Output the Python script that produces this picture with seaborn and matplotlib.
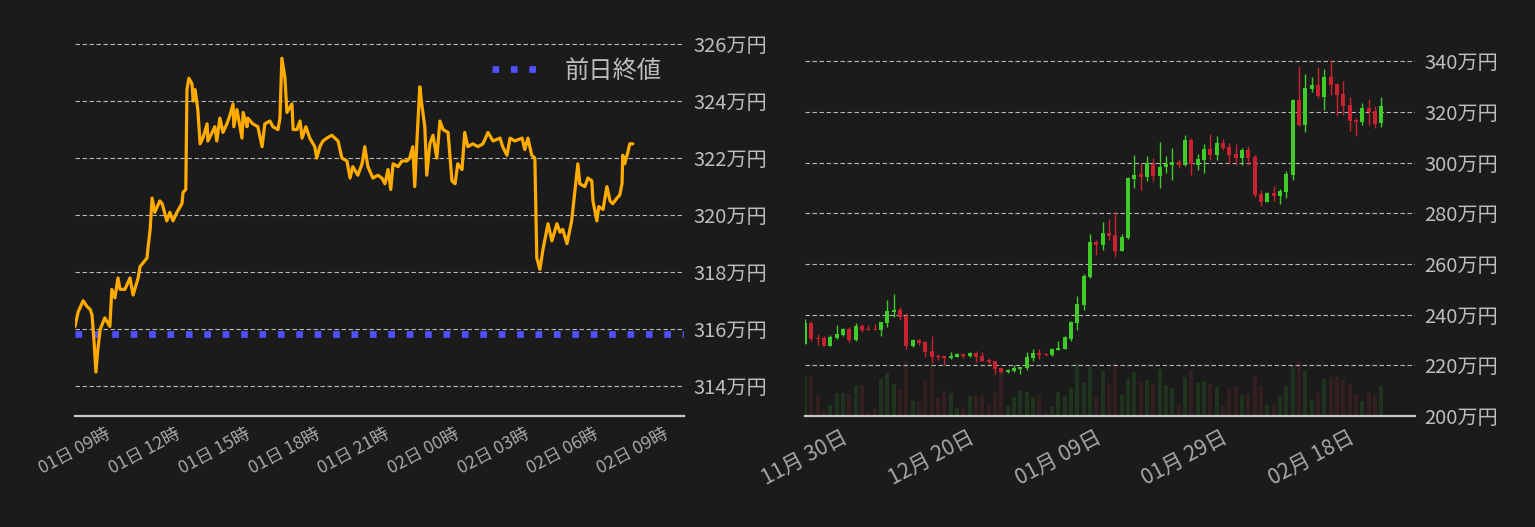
import matplotlib

matplotlib.use("Agg")
import matplotlib.pyplot as plt
import matplotlib.dates as mdates
import numpy as np
import pandas as pd
import seaborn as sns

# ---- intraday (left) ----
intraday_start = "2024-03-01 09:00"
minutes = [
    0, 8, 21, 31, 39, 44, 49, 54, 59, 65, 77, 90, 95, 103, 111, 116, 129, 142, 150, 163,
    168, 186, 188, 194, 199, 206, 219, 225, 237, 245, 253, 263, 276, 279, 286, 289, 294, 302, 305, 310,
    315, 317, 323, 330, 341, 343, 354, 361, 366, 374, 382, 392, 400, 408, 410, 418, 431, 434, 444, 446,
    459, 472, 483, 490, 503, 511, 524, 529, 534, 542, 547, 560, 563, 573, 581, 586, 596, 606, 619, 624,
    632, 640, 650, 663, 679, 689, 702, 710, 717, 730, 741, 748, 756, 769, 782, 792, 800, 808, 815, 821,
    834, 844, 857, 864, 872, 877, 883, 890, 895, 903, 908, 916, 924, 934, 942, 950, 963, 973, 981, 988,
    999, 1006, 1014, 1027, 1040, 1053, 1066, 1079, 1097, 1104, 1115, 1123, 1135, 1154, 1161, 1169, 1179, 1187, 1192, 1200,
    1208, 1221, 1231, 1244, 1252, 1259, 1270, 1282, 1290, 1298, 1303, 1316, 1324, 1334, 1337, 1347, 1352, 1363, 1373, 1381,
    1388, 1399, 1406, 1412, 1414, 1419, 1427, 1432, 1440,
]
price = [
    316.1, 316.6, 317.0, 316.8, 316.7, 316.5, 315.6, 314.5, 315.3, 316.0, 316.4, 316.1, 317.4, 317.1, 317.8, 317.4, 317.4, 317.8, 317.2, 317.8,
    318.2, 318.5, 318.8, 319.5, 320.6, 320.1, 320.5, 320.4, 319.8, 320.1, 319.8, 320.1, 320.4, 320.8, 320.9, 324.4, 324.8, 324.6, 324.0, 324.4,
    323.9, 323.7, 322.5, 322.7, 323.2, 322.6, 322.9, 323.1, 322.6, 323.4, 322.9, 323.2, 323.5, 323.9, 323.1, 323.7, 322.7, 323.6, 323.1, 323.4,
    323.2, 323.1, 322.4, 323.2, 323.3, 323.1, 323.0, 323.4, 325.5, 324.8, 323.6, 323.9, 323.0, 323.0, 323.3, 322.7, 323.1, 322.7, 322.4, 322.0,
    322.4, 322.6, 322.7, 322.8, 322.6, 322.0, 321.9, 321.3, 321.7, 321.4, 321.8, 322.4, 321.7, 321.3, 321.4, 321.3, 321.1, 321.6, 320.9, 321.8,
    321.7, 321.9, 321.9, 322.0, 322.4, 321.0, 322.7, 324.5, 323.9, 323.1, 321.4, 322.5, 322.8, 322.0, 323.3, 323.0, 322.9, 321.2, 321.1, 321.8,
    321.6, 322.9, 322.4, 322.5, 322.4, 322.5, 322.9, 322.6, 322.7, 322.4, 322.1, 322.7, 322.6, 322.7, 322.3, 322.7, 322.1, 322.0, 318.5, 318.1,
    318.8, 319.7, 319.1, 319.7, 319.4, 319.5, 319.0, 319.8, 320.8, 321.8, 321.1, 321.0, 321.3, 321.2, 320.5, 319.8, 320.3, 320.2, 321.0, 320.5,
    320.4, 320.6, 320.7, 321.1, 322.1, 321.8, 322.2, 322.5, 322.5,
]
prev_close = 315.82
left_yticks = [314, 316, 318, 320, 322, 324, 326]

# ---- daily candles (right) ----
daily_start = "2023-11-30"
opens = [
    228.3, 236.6, 230.8, 230.7, 227.7, 230.7, 231.9, 234.2, 229.9, 235.4, 234.4, 234.4, 234.0, 236.7, 240.9, 241.7,
    239.3, 227.5, 229.9, 229.1, 225.6, 223.7, 223.6, 222.8, 223.2, 224.4, 223.6, 224.8, 223.6, 222.0, 221.6, 218.9,
    217.3, 217.7, 218.5, 218.9, 222.8, 224.8, 224.4, 224.0, 226.0, 226.4, 230.3, 236.6, 243.7, 254.7, 268.5, 267.3,
    272.4, 271.6, 265.3, 270.4, 293.7, 295.6, 294.5, 299.6, 294.9, 298.4, 299.2, 300.4, 299.2, 309.0, 299.2, 301.2,
    305.5, 303.1, 307.8, 306.3, 303.5, 302.0, 305.1, 302.3, 287.8, 284.6, 288.2, 287.0, 288.6, 295.2, 324.8, 314.9,
    329.1, 330.7, 326.0, 333.8, 331.1, 327.1, 322.8, 316.9, 316.1, 321.6, 320.4, 315.7,
]
highs = [
    238.4, 237.4, 232.3, 231.5, 231.9, 235.8, 234.6, 235.0, 236.6, 236.2, 235.8, 236.2, 237.0, 245.6, 248.0, 242.9,
    240.5, 230.3, 230.3, 229.5, 231.5, 224.3, 223.6, 225.2, 224.8, 224.4, 225.2, 225.6, 225.2, 222.8, 221.6, 218.9,
    218.5, 220.1, 219.3, 225.2, 226.4, 226.4, 225.0, 226.7, 229.5, 231.5, 237.4, 247.2, 255.9, 272.0, 269.3, 276.4,
    277.9, 280.7, 272.0, 294.5, 303.1, 300.0, 302.7, 302.0, 308.2, 302.7, 305.9, 301.6, 311.0, 309.8, 303.5, 307.5,
    311.4, 310.6, 309.4, 307.8, 307.5, 305.9, 306.7, 303.1, 289.3, 288.6, 290.9, 289.7, 296.8, 325.2, 338.2, 335.0,
    333.8, 337.8, 337.0, 340.5, 331.1, 332.3, 326.0, 317.7, 323.6, 325.2, 322.4, 326.0,
]
lows = [
    228.3, 229.6, 227.9, 227.7, 227.7, 230.3, 231.5, 229.2, 229.5, 233.2, 234.0, 234.0, 231.6, 235.1, 239.1, 237.9,
    226.4, 227.1, 227.9, 223.2, 220.8, 222.1, 220.1, 222.4, 223.2, 222.8, 223.2, 221.3, 221.6, 220.5, 216.5, 216.9,
    216.9, 217.3, 216.5, 218.1, 221.6, 222.4, 223.6, 223.6, 226.0, 226.4, 229.5, 233.8, 241.7, 254.3, 263.4, 265.7,
    269.3, 262.6, 265.3, 270.0, 290.1, 289.3, 292.9, 292.9, 290.1, 296.0, 293.3, 298.0, 298.8, 295.2, 297.2, 296.0,
    301.2, 301.2, 305.1, 300.0, 299.2, 299.2, 299.2, 286.6, 282.7, 284.6, 285.0, 283.8, 286.2, 293.3, 314.5, 312.2,
    327.9, 325.6, 320.8, 326.8, 318.5, 318.9, 312.6, 310.6, 314.9, 314.9, 313.8, 314.1,
]
closes = [
    236.6, 230.3, 230.3, 227.7, 231.1, 232.3, 234.2, 230.0, 235.4, 234.0, 234.0, 234.0, 237.0, 241.3, 241.7, 239.1,
    227.5, 229.9, 228.7, 225.2, 223.2, 223.3, 222.8, 223.6, 224.4, 223.6, 224.8, 223.2, 221.6, 221.3, 218.5, 217.3,
    218.1, 218.9, 219.3, 223.2, 224.8, 224.0, 224.1, 226.4, 226.7, 231.1, 237.0, 244.1, 255.1, 268.5, 267.3, 272.4,
    271.2, 265.3, 270.8, 294.1, 295.2, 294.5, 300.0, 294.9, 298.4, 299.6, 300.4, 299.2, 309.0, 299.6, 301.5, 305.5,
    303.1, 307.8, 305.9, 303.1, 302.0, 305.1, 302.0, 287.4, 284.6, 288.2, 287.0, 289.0, 295.6, 324.8, 314.9, 329.5,
    330.7, 326.4, 333.8, 330.7, 326.8, 322.4, 316.5, 316.1, 321.6, 320.1, 315.3, 322.4,
]
volume = [
    116, 119, 62, 17, 32, 68, 68, 65, 89, 92, 11, 20, 110, 128, 95, 77,
    164, 44, 41, 107, 152, 53, 74, 68, 23, 26, 59, 59, 62, 32, 68, 137,
    29, 56, 74, 71, 56, 62, 11, 26, 71, 59, 83, 158, 98, 149, 56, 134,
    98, 158, 62, 110, 131, 101, 107, 95, 140, 92, 83, 32, 116, 137,
    98, 104, 95, 86, 29, 83, 89, 62, 65, 119, 89, 32, 32, 59, 89, 149,
    164, 134, 47, 68, 110, 116, 116, 107, 95, 65, 44, 71, 62, 89,
]
right_yticks = [200, 220, 240, 260, 280, 300, 320, 340]
right_xticks = ["2023-11-30", "2023-12-20", "2024-01-09", "2024-01-29", "2024-02-18"]

BG = "#1b1b1b"
ORANGE = "#ffab00"
BLUE = "#5050ff"
UP = "#3fcc29"
DOWN = "#c9212f"
UP_VOL = "#1f331f"
DOWN_VOL = "#331f1f"
GRID = "#b8b8b8"
TXT = "#bdbdbd"

sns.set_theme(style="dark", rc={"axes.facecolor": BG, "figure.facecolor": BG})
plt.rcParams["font.family"] = ["Noto Sans CJK JP", "DejaVu Sans"]

fig = plt.figure(figsize=(15.35, 5.27), dpi=100)
W, H = 1535, 527


def style_axes(ax, xpad):
    for side in ["top", "left", "right"]:
        ax.spines[side].set_visible(False)
    ax.spines["bottom"].set_color("#c8c8c8")
    ax.spines["bottom"].set_linewidth(1.6)
    ax.yaxis.tick_right()
    ax.tick_params(axis="y", length=0, pad=6.5, labelsize=14.5, labelcolor=TXT)
    ax.tick_params(axis="x", length=0, pad=xpad, labelcolor="#a8a8a8")
    ax.grid(axis="y", color=GRID, linewidth=0.8, linestyle=(0, (4, 2.3)))
    ax.grid(axis="x", visible=False)
    ax.set_xlabel("")
    ax.set_ylabel("")


# ---- left chart ----
ax1 = fig.add_axes([75 / W, 111 / H, 609 / W, 386 / H])
t0 = pd.Timestamp(intraday_start)
times = t0 + pd.to_timedelta(minutes, unit="min")
ax1.axhline(prev_close, color=BLUE, linewidth=4.8, linestyle=(0, (1, 1.76)),
            dash_capstyle="butt", label="前日終値", zorder=2)
sns.lineplot(x=times, y=price, color=ORANGE, linewidth=2.3, ax=ax1, zorder=3)
ax1.set_xlim(t0, t0 + pd.Timedelta(minutes=1572))
ax1.set_ylim(312.96, 326.49)
ax1.set_yticks(left_yticks)
ax1.set_yticklabels([f"{v}万円" for v in left_yticks])
ax1.xaxis.set_major_locator(mdates.HourLocator(byhour=range(0, 24, 3)))
ax1.xaxis.set_major_formatter(mdates.DateFormatter("%d日 %H時"))
style_axes(ax1, xpad=6.5)
plt.setp(ax1.get_xticklabels(), rotation=28, ha="center", fontsize=12.7)
leg = ax1.legend(loc="upper right", bbox_to_anchor=(662 / W, (H - 58) / H),
                 bbox_transform=fig.transFigure, frameon=False, fontsize=17.5,
                 borderpad=0, borderaxespad=0, handlelength=1.95, handletextpad=1.05)
for text in leg.get_texts():
    text.set_color(TXT)

# ---- right chart ----
rect = [805 / W, 111 / H, 610 / W, 386 / H]
ax_vol = fig.add_axes(rect)
ax2 = fig.add_axes(rect, sharex=ax_vol)
ax2.set_facecolor("none")

days = pd.date_range(daily_start, periods=len(opens), freq="D")
o = np.array(opens)
c = np.array(closes)
up = c >= o
body_colors = np.where(up, UP, DOWN)
vol_colors = np.where(up, UP_VOL, DOWN_VOL)

ax_vol.bar(days, volume, width=0.63, color=vol_colors, linewidth=0)
ax_vol.set_ylim(0, 1158)
ax_vol.axis("off")

ax2.vlines(days, lows, highs, colors=body_colors, linewidth=1.0, zorder=3)
body_h = np.maximum(np.abs(c - o), 0.45)
ax2.bar(days, body_h, bottom=np.minimum(o, c), width=0.63, color=body_colors,
        linewidth=0, zorder=4)
ax2.set_xlim(pd.Timestamp(daily_start), pd.Timestamp(daily_start) + pd.Timedelta(days=96.3))
ax2.set_ylim(200, 352.35)
ax2.set_yticks(right_yticks)
ax2.set_yticklabels([f"{v}万円" for v in right_yticks])
ax2.set_xticks(pd.to_datetime(right_xticks))
ax2.xaxis.set_major_formatter(mdates.DateFormatter("%m月 %d日"))
style_axes(ax2, xpad=7.5)
plt.setp(ax2.get_xticklabels(), rotation=28, ha="center", fontsize=15.2)

fig.savefig("out.png", dpi=100, facecolor=BG)
